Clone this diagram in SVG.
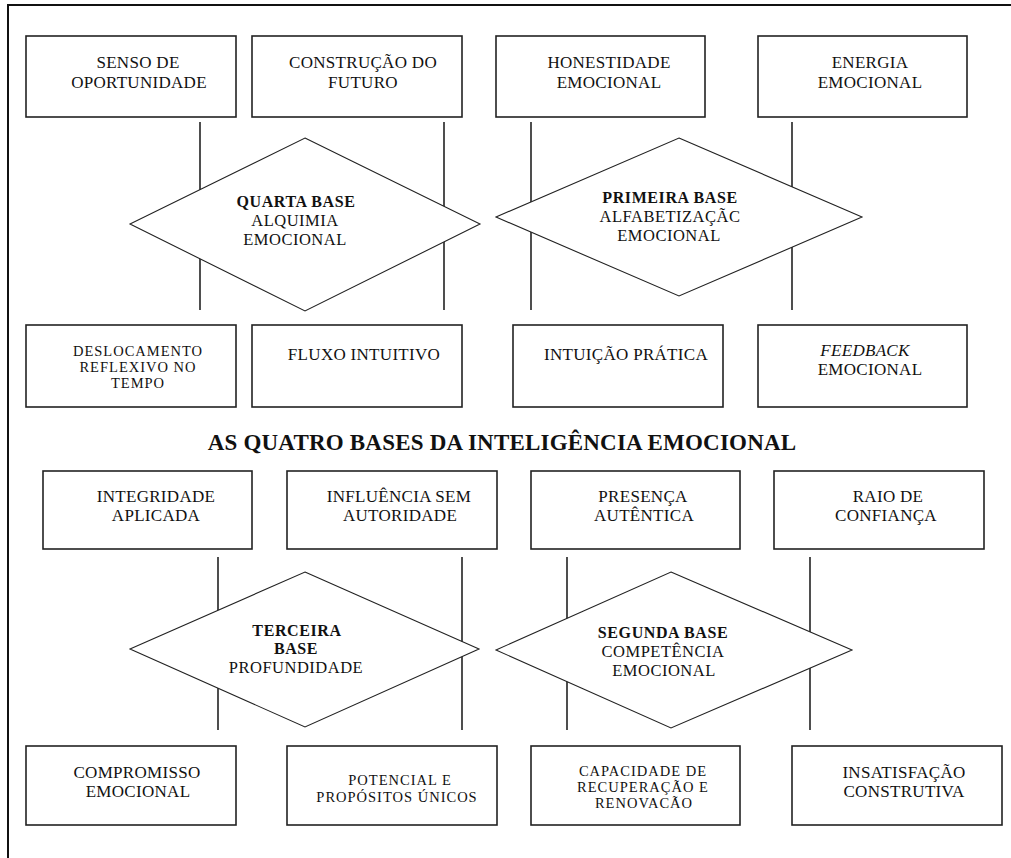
<svg xmlns="http://www.w3.org/2000/svg" width="1011" height="858" viewBox="0 0 1011 858">
<style>
text{font-family:"Liberation Serif","Times New Roman",serif;fill:#111;text-anchor:middle}
.t{font-size:17px;letter-spacing:0.3px}
.s{font-size:14.5px;letter-spacing:1px}
.b{font-size:16px;font-weight:bold;letter-spacing:0.6px}
.d{font-size:16.5px;letter-spacing:0.5px}
.i{font-style:italic}
.title{font-size:23px;font-weight:bold;letter-spacing:0.2px}
.box{fill:#fff;stroke:#222;stroke-width:1.6}
.dia{fill:#fff;stroke:#222;stroke-width:1.1}
.con{stroke:#222;stroke-width:1.6;fill:none}
.frame{stroke:#111;stroke-width:2;fill:none}
</style>
<rect width="1011" height="858" fill="#fff"/>
<path class="frame" d="M8,858 V5 H1011"/>
<g id="connectors">
<line class="con" x1="200" y1="122" x2="200" y2="310"/>
<line class="con" x1="444" y1="122" x2="444" y2="310"/>
<line class="con" x1="531" y1="122" x2="531" y2="310"/>
<line class="con" x1="792" y1="122" x2="792" y2="310"/>
<line class="con" x1="218" y1="557" x2="218" y2="730"/>
<line class="con" x1="462" y1="557" x2="462" y2="730"/>
<line class="con" x1="567" y1="557" x2="567" y2="730"/>
<line class="con" x1="810" y1="557" x2="810" y2="730"/>
</g>
<g id="senso-oportunidade"><rect class="box" x="26" y="36" width="210" height="81"/><text class="t" x="138" y="68">SENSO DE</text><text class="t" x="139" y="88">OPORTUNIDADE</text></g>
<g id="construcao-futuro"><rect class="box" x="252" y="36" width="210" height="81"/><text class="t" x="363" y="68">CONSTRUÇÃO DO</text><text class="t" x="363" y="88">FUTURO</text></g>
<g id="honestidade-emocional"><rect class="box" x="496" y="36" width="209" height="81"/><text class="t" x="609" y="68">HONESTIDADE</text><text class="t" x="609" y="88">EMOCIONAL</text></g>
<g id="energia-emocional"><rect class="box" x="758" y="36" width="209" height="81"/><text class="t" x="870" y="68">ENERGIA</text><text class="t" x="870" y="88">EMOCIONAL</text></g>
<g id="quarta-base"><polygon class="dia" points="305,138 480,224 305,311 130,224"/><text class="b" x="296" y="207">QUARTA BASE</text><text class="d" x="295" y="226">ALQUIMIA</text><text class="d" x="295" y="245">EMOCIONAL</text></g>
<g id="primeira-base"><polygon class="dia" points="679,138 862,217 679,296 496,217"/><text class="b" x="670" y="203">PRIMEIRA BASE</text><text class="d" x="670" y="222">ALFABETIZAÇÃC</text><text class="d" x="669" y="241">EMOCIONAL</text></g>
<g id="deslocamento"><rect class="box" x="26" y="325" width="210" height="82"/><text class="s" x="138" y="356">DESLOCAMENTO</text><text class="s" x="138" y="372">REFLEXIVO NO</text><text class="s" x="138" y="388">TEMPO</text></g>
<g id="fluxo-intuitivo"><rect class="box" x="252" y="325" width="210" height="82"/><text class="t" x="364" y="360">FLUXO INTUITIVO</text></g>
<g id="intuicao-pratica"><rect class="box" x="513" y="325" width="210" height="82"/><text class="t" x="626" y="360">INTUIÇÃO PRÁTICA</text></g>
<g id="feedback-emocional"><rect class="box" x="758" y="325" width="209" height="82"/><text class="t i" x="865" y="356">FEEDBACK</text><text class="t" x="870" y="375">EMOCIONAL</text></g>
<g id="titulo"><text class="title" x="502" y="450">AS QUATRO BASES DA INTELIGÊNCIA EMOCIONAL</text></g>
<g id="integridade-aplicada"><rect class="box" x="43" y="471" width="209" height="78"/><text class="t" x="156" y="502">INTEGRIDADE</text><text class="t" x="156" y="521">APLICADA</text></g>
<g id="influencia-autoridade"><rect class="box" x="287" y="471" width="210" height="78"/><text class="t" x="399" y="502">INFLUÊNCIA SEM</text><text class="t" x="400" y="521">AUTORIDADE</text></g>
<g id="presenca-autentica"><rect class="box" x="531" y="471" width="209" height="78"/><text class="t" x="643" y="502">PRESENÇA</text><text class="t" x="644" y="521">AUTÊNTICA</text></g>
<g id="raio-confianca"><rect class="box" x="774" y="471" width="210" height="78"/><text class="t" x="888" y="502">RAIO DE</text><text class="t" x="886" y="521">CONFIANÇA</text></g>
<g id="terceira-base"><polygon class="dia" points="305,572 479,649 305,727 130,649"/><text class="b" x="297" y="636">TERCEIRA</text><text class="b" x="296" y="654">BASE</text><text class="d" x="296" y="673">PROFUNDIDADE</text></g>
<g id="segunda-base"><polygon class="dia" points="671,572 852,650 671,728 496,650"/><text class="b" x="663" y="638">SEGUNDA BASE</text><text class="d" x="663" y="657">COMPETÊNCIA</text><text class="d" x="664" y="676">EMOCIONAL</text></g>
<g id="compromisso-emocional"><rect class="box" x="26" y="746" width="210" height="79"/><text class="t" x="137" y="778">COMPROMISSO</text><text class="t" x="138" y="797">EMOCIONAL</text></g>
<g id="potencial-propositos"><rect class="box" x="287" y="746" width="210" height="79"/><text class="s" x="400" y="785">POTENCIAL E</text><text class="s" x="397" y="802">PROPÓSITOS ÚNICOS</text></g>
<g id="capacidade-recuperacao"><rect class="box" x="531" y="746" width="209" height="79"/><text class="s" x="643" y="776">CAPACIDADE DE</text><text class="s" x="643" y="792">RECUPERAÇÃO E</text><text class="s" x="644" y="808">RENOVACÃO</text></g>
<g id="insatisfacao-construtiva"><rect class="box" x="792" y="746" width="210" height="79"/><text class="t" x="904" y="778">INSATISFAÇÃO</text><text class="t" x="904" y="797">CONSTRUTIVA</text></g>
</svg>
